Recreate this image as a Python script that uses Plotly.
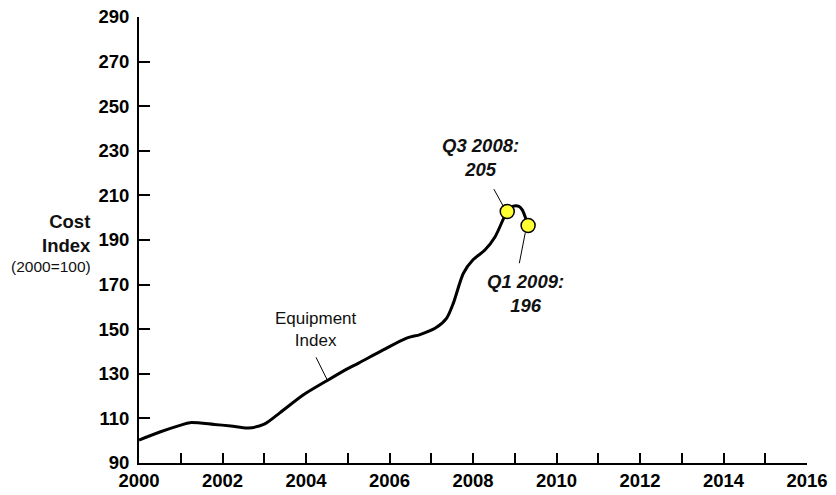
import plotly.graph_objects as go

# Equipment cost index (2000=100)
years = [2000.0, 2000.5, 2001.0, 2001.22, 2001.8, 2002.2, 2002.62, 2003.0, 2003.38,
         2003.94, 2004.5, 2005.0, 2005.25, 2005.85, 2006.41, 2006.73,
         2007.1, 2007.37, 2007.53, 2007.77, 2008.0, 2008.29, 2008.53, 2008.82,
         2008.95, 2009.1, 2009.18, 2009.32]
index_values = [100.3, 103.9, 107.0, 108.1, 107.3, 106.6, 105.7, 107.4, 112.6,
                120.6, 126.9, 132.3, 134.7, 140.7, 146.0, 147.6,
                150.5, 155.0, 161.7, 175.1, 181.1, 185.6, 191.5, 202.8,
                205.1, 205.1, 203.5, 196.5]

# Highlighted points
point_years = [2008.82, 2009.32]
point_values = [202.8, 196.5]
point_labels = ["Q3 2008:<br>205", "Q1 2009:<br>196"]

x_tick_vals = list(range(2000, 2017, 2))
y_tick_vals = list(range(90, 291, 20))

FONT = "Liberation Sans, Arial, sans-serif"

fig = go.Figure()
fig.add_trace(go.Scatter(
    x=years, y=index_values, mode="lines",
    line=dict(color="black", width=3, shape="spline", smoothing=0.8),
    hoverinfo="skip", showlegend=False))
fig.add_trace(go.Scatter(
    x=point_years, y=point_values, mode="markers",
    marker=dict(color="#ffff33", size=14, line=dict(color="black", width=1.5)),
    hoverinfo="skip", showlegend=False))

# leader lines
leaders = [
    ((2008.50, 212.8), (2008.73, 205.0)),
    ((2009.11, 179.6), (2009.25, 193.1)),
    ((2004.24, 137.4), (2004.51, 127.2)),
]
for (x0, y0), (x1, y1) in leaders:
    fig.add_shape(type="line", xref="x", yref="y", x0=x0, y0=y0, x1=x1, y1=y1,
                  line=dict(color="black", width=1))

fig.add_annotation(x=2008.19, y=226.9, text="<b><i>" + point_labels[0] + "</i></b>",
                   showarrow=False, font=dict(family=FONT, size=18.5, color="#111"))
fig.add_annotation(x=2009.25, y=165.8, text="<b><i>" + point_labels[1] + "</i></b>",
                   showarrow=False, font=dict(family=FONT, size=18.5, color="#111"))
fig.add_annotation(x=2004.24, y=149.7, text="Equipment<br>Index",
                   showarrow=False, font=dict(family=FONT, size=17, color="#111"))

# y-axis title
fig.add_annotation(xref="paper", yref="paper", x=-0.0689, y=0.514, xanchor="right",
                   yanchor="middle", align="right", text="<b>Cost</b><br><b>Index</b>",
                   showarrow=False, font=dict(family=FONT, size=18.5, color="#111"))
fig.add_annotation(xref="paper", yref="paper", x=-0.0689, y=0.4395, xanchor="right",
                   yanchor="middle", text="(2000=100)", showarrow=False,
                   font=dict(family=FONT, size=15.5, color="#111"))

fig.update_layout(
    width=836, height=495,
    margin=dict(l=139, r=29, t=17, b=32, autoexpand=False),
    paper_bgcolor="white", plot_bgcolor="white",
    font=dict(family=FONT, color="black"),
    xaxis=dict(range=[2000, 2016], tickvals=x_tick_vals, automargin=False,
               ticktext=["<b>%d</b>" % v for v in x_tick_vals],
               showgrid=False, zeroline=False, showline=True, linecolor="black",
               linewidth=2, ticks="inside", ticklen=10, tickwidth=2,
               tickcolor="black", tickfont=dict(size=18.5, family=FONT),
               minor=dict(dtick=1, tick0=2000, ticks="inside", ticklen=10,
                          tickwidth=2, tickcolor="black", showgrid=False)),
    yaxis=dict(range=[90, 290], tickvals=y_tick_vals, automargin=False,
               ticktext=["<b>%d</b>" % v for v in y_tick_vals],
               showgrid=False, zeroline=False, showline=True, linecolor="black",
               linewidth=2, ticks="inside", ticklen=11, tickwidth=2,
               tickcolor="black", tickfont=dict(size=18.5, family=FONT),
               ticklabelstandoff=4),
)

# remove the default 8px page margin so the figure fills the window exactly
fig.write_html("out.html", config={"displayModeBar": False},
               post_script="document.body.style.margin='0';document.body.style.overflow='hidden';")
